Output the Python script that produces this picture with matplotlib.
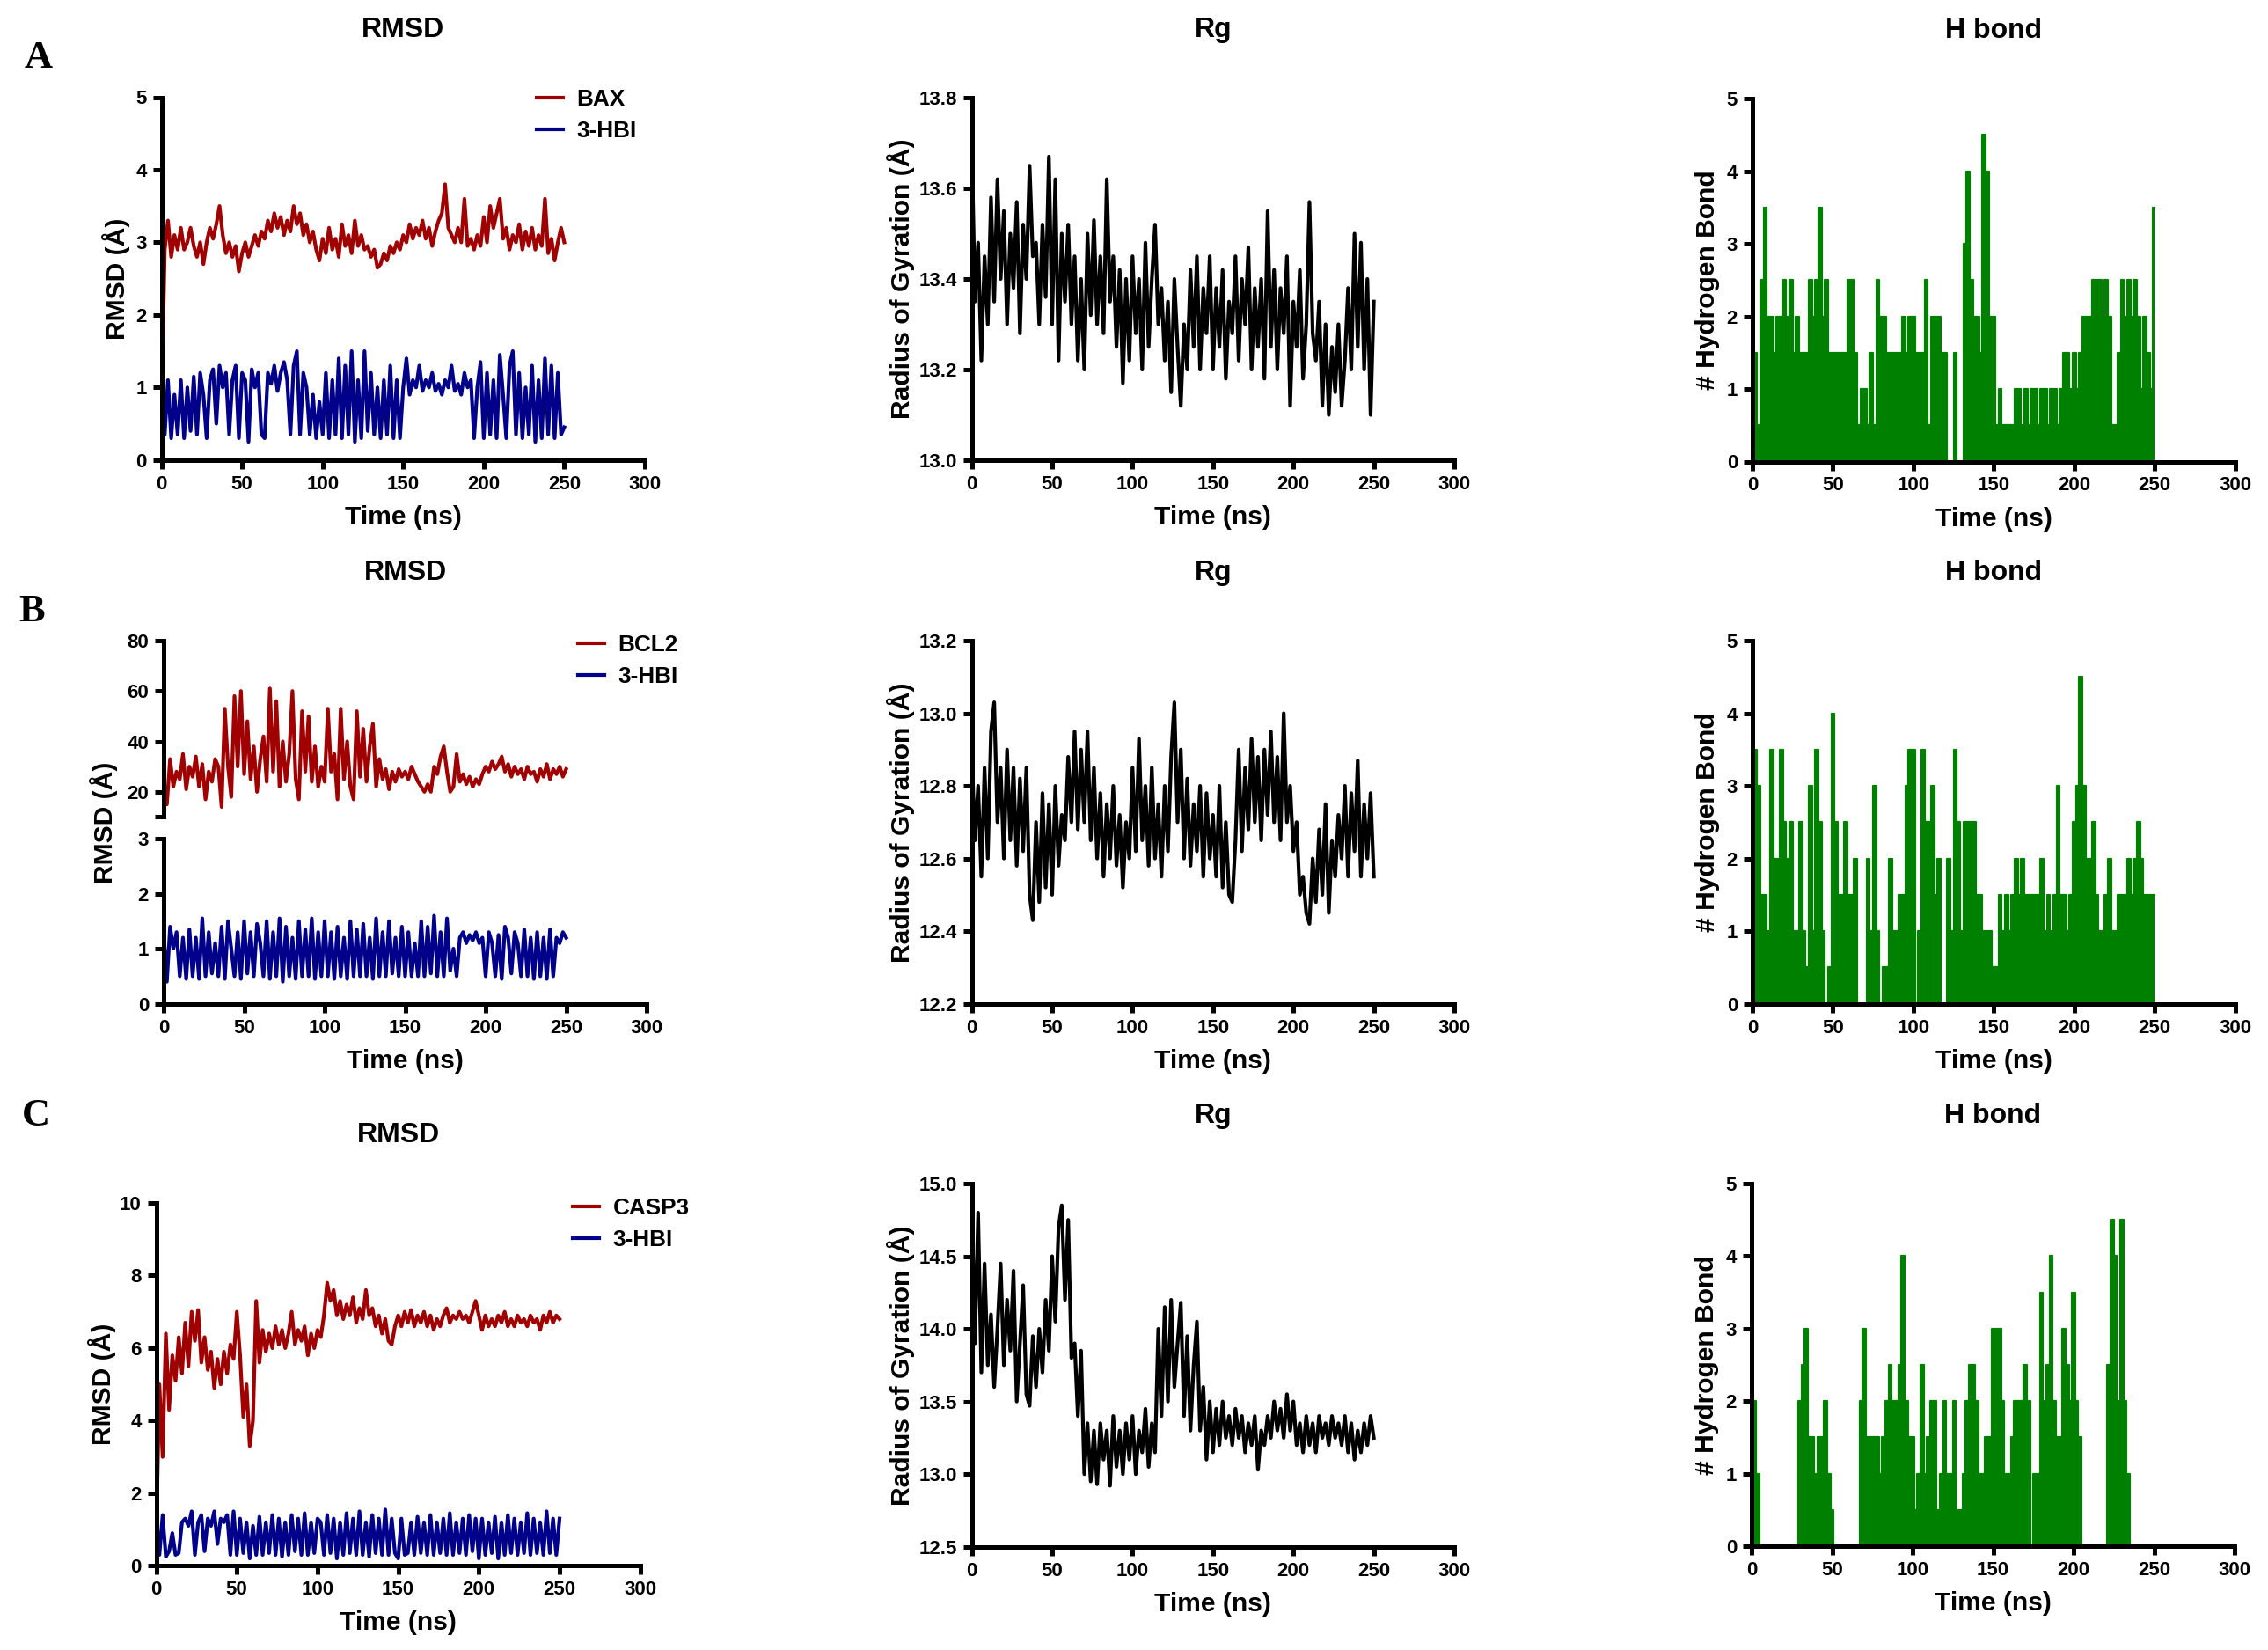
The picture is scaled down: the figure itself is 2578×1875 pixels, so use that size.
import numpy as np
import matplotlib
matplotlib.use('Agg')
import matplotlib.pyplot as plt
from matplotlib.ticker import FormatStrFormatter

# ---- data (one value every 2 ns, 0..250 ns) ----
bax_rmsd = [0.7, 2.9, 3.3, 2.8, 3.1, 2.9, 3.2, 2.9, 3.0, 3.2, 2.95, 2.8, 3.0, 2.7, 3.0, 3.2, 3.05, 3.25, 3.5, 3.1, 2.85, 3.0, 2.8, 2.95, 2.6,
            2.85, 3.0, 2.8, 2.95, 3.1, 2.95, 3.15, 3.05, 3.3, 3.15, 3.4, 3.2, 3.35, 3.1, 3.3, 3.15, 3.5, 3.25, 3.4, 3.1, 3.25, 3.0, 3.15, 2.9, 2.75,
            3.05, 2.85, 3.2, 2.9, 3.05, 2.8, 3.25, 2.95, 3.1, 2.85, 3.3, 2.95, 3.1, 2.9, 2.95, 2.8, 2.9, 2.65, 2.7, 2.85, 2.75, 2.95, 2.85, 3.0, 2.9,
            3.1, 3.0, 3.25, 3.05, 3.2, 3.1, 3.3, 3.05, 3.2, 2.95, 3.15, 3.3, 3.4, 3.8, 3.2, 3.1, 3.0, 3.2, 3.0, 3.6, 2.95, 3.05, 2.9, 3.1, 2.95,
            3.35, 3.0, 3.5, 3.2, 3.4, 3.6, 3.05, 3.2, 2.9, 3.1, 3.0, 3.25, 2.9, 3.15, 2.95, 3.2, 2.9, 3.1, 2.95, 3.6, 2.85, 3.05, 2.75, 3.0, 3.2, 3.0]
hbi_rmsd_a = [0.6, 0.35, 1.1, 0.3, 0.9, 0.35, 1.1, 0.3, 1.0, 0.4, 1.15, 0.35, 1.2, 0.9, 0.3, 1.1, 1.25, 0.5, 1.3, 1.0, 1.2, 0.35, 1.1, 1.3, 0.3,
              1.2, 1.1, 0.25, 1.25, 1.0, 1.2, 0.35, 0.3, 1.2, 1.05, 1.3, 0.95, 1.2, 1.35, 1.1, 0.35, 1.3, 1.5, 0.35, 1.2, 1.0, 0.35, 0.9, 0.3, 0.8,
              0.35, 1.2, 0.3, 1.1, 0.35, 1.4, 0.3, 1.3, 0.35, 1.5, 0.25, 1.1, 0.3, 1.5, 0.4, 1.2, 0.35, 1.0, 0.3, 1.1, 0.35, 1.3, 0.3, 1.1, 0.3,
              1.0, 1.4, 0.9, 1.1, 1.0, 1.3, 0.95, 1.1, 1.0, 1.2, 0.95, 1.05, 0.9, 1.1, 1.0, 1.3, 0.95, 1.05, 0.9, 1.2, 1.0, 1.1, 0.3, 1.0, 1.35,
              0.3, 1.2, 0.35, 1.1, 0.3, 1.45, 0.9, 0.3, 1.3, 1.5, 0.35, 1.2, 0.3, 1.0, 0.35, 1.3, 0.25, 1.1, 0.3, 1.4, 0.35, 1.3, 0.3, 1.2, 0.35, 0.45]
rg_a = [13.72, 13.35, 13.48, 13.22, 13.45, 13.3, 13.58, 13.35, 13.62, 13.4, 13.55, 13.3, 13.5, 13.38, 13.57, 13.28, 13.52, 13.4, 13.65, 13.45, 13.48, 13.3, 13.52, 13.36, 13.67,
        13.3, 13.62, 13.22, 13.5, 13.35, 13.52, 13.3, 13.45, 13.22, 13.4, 13.2, 13.5, 13.32, 13.53, 13.3, 13.45, 13.28, 13.62, 13.35, 13.45, 13.25, 13.42, 13.17, 13.4, 13.22,
        13.45, 13.28, 13.4, 13.2, 13.48, 13.25, 13.4, 13.52, 13.3, 13.38, 13.22, 13.35, 13.15, 13.4, 13.25, 13.12, 13.3, 13.2, 13.42, 13.25, 13.45, 13.2, 13.38, 13.28, 13.45,
        13.2, 13.38, 13.25, 13.42, 13.18, 13.35, 13.28, 13.45, 13.22, 13.4, 13.3, 13.47, 13.2, 13.38, 13.25, 13.4, 13.18, 13.55, 13.25, 13.42, 13.2, 13.38, 13.28, 13.45, 13.12,
        13.35, 13.25, 13.42, 13.18, 13.3, 13.57, 13.28, 13.22, 13.35, 13.12, 13.3, 13.1, 13.25, 13.15, 13.3, 13.12, 13.22, 13.38, 13.2, 13.5, 13.25, 13.48, 13.2, 13.4, 13.1, 13.35]
hb_a = [0, 1.5, 0.5, 2.5, 3.5, 2, 2, 1.5, 2, 2, 2.5, 2, 2.5, 1.5, 2, 1.5, 1.5, 1.5, 2.5, 2, 2.5, 3.5, 2, 2.5, 1.5,
        1.5, 1.5, 1.5, 1.5, 1.5, 2.5, 2.5, 1.5, 0.5, 1, 1, 0.5, 1.5, 0.5, 2.5, 2, 2, 1.5, 1.5, 1.5, 1.5, 1.5, 2, 1.5, 2,
        2, 1.5, 1.5, 1.5, 2.5, 0.5, 2, 2, 2, 1.5, 1.5, 0, 0, 1.5, 0, 0, 3, 4, 2.5, 2, 2, 1.5, 4.5, 4, 2,
        2, 0.5, 1, 0.5, 0.5, 0.5, 0.5, 1, 1, 0.5, 1, 0.5, 1, 1, 0.5, 1, 1, 0.5, 1, 1, 0.5, 1, 1.5, 1.5, 1,
        1.5, 1, 1.5, 2, 2, 2, 2.5, 2.5, 2.5, 2, 2.5, 2, 0.5, 0.5, 1.5, 2.5, 2, 2.5, 2, 2.5, 2, 1, 2, 1.5, 1, 3.5]

bcl2_rmsd = [25, 15, 33, 22, 28, 25, 35, 21, 30, 26, 34, 22, 31, 17, 28, 24, 33, 30, 14, 53, 30, 18, 58, 30, 60,
             27, 48, 25, 38, 20, 33, 42, 24, 61, 28, 56, 22, 40, 24, 35, 60, 25, 17, 52, 28, 50, 24, 38, 22, 30,
             24, 53, 28, 35, 17, 53, 25, 40, 22, 17, 52, 26, 45, 24, 38, 47, 22, 33, 25, 29, 21, 28, 24, 29, 26,
             28, 25, 30, 27, 24, 22, 20, 23, 20, 30, 27, 34, 38, 28, 20, 22, 35, 24, 27, 23, 26, 22, 25, 23, 27,
             30, 28, 32, 29, 31, 34, 28, 31, 26, 30, 27, 29, 25, 30, 27, 28, 24, 29, 26, 31, 25, 29, 27, 30, 26, 29]
hbi_rmsd_b = [1.3, 0.4, 1.4, 1.0, 1.3, 0.5, 1.2, 0.45, 1.35, 0.5, 1.2, 0.45, 1.55, 0.5, 1.3, 0.55, 1.1, 0.5, 1.4, 0.45, 1.5, 1.0, 0.5, 1.3, 0.45,
              1.5, 0.55, 1.3, 0.5, 1.45, 1.1, 0.5, 1.5, 0.45, 1.3, 0.5, 1.55, 0.4, 1.4, 0.5, 1.2, 0.45, 1.5, 0.5, 1.35, 0.5, 1.55, 0.45, 1.3, 0.5,
              1.5, 0.5, 1.3, 0.45, 1.4, 0.5, 1.2, 0.45, 1.5, 0.5, 1.35, 0.5, 1.45, 0.5, 1.2, 0.45, 1.55, 0.5, 1.3, 0.5, 1.5, 0.55, 1.2, 0.5, 1.4,
              0.5, 1.3, 0.5, 1.1, 0.5, 1.5, 0.5, 1.4, 0.55, 1.6, 0.5, 1.3, 0.5, 1.55, 0.6, 1.0, 0.5, 1.2, 1.3, 1.1, 1.25, 1.15, 1.3, 1.1, 1.2,
              0.5, 1.3, 1.1, 0.5, 1.25, 0.45, 1.4, 1.2, 0.55, 1.3, 1.1, 0.5, 1.35, 0.5, 1.2, 0.45, 1.3, 0.5, 1.2, 0.45, 1.35, 0.5, 1.2, 1.1, 1.3, 1.2]
rg_b = [12.9, 12.65, 12.8, 12.55, 12.85, 12.6, 12.95, 13.03, 12.7, 12.85, 12.6, 12.9, 12.65, 12.85, 12.58, 12.82, 12.62, 12.85, 12.5, 12.43, 12.7, 12.48, 12.78, 12.52, 12.75,
        12.5, 12.8, 12.58, 12.72, 12.65, 12.88, 12.7, 12.95, 12.68, 12.9, 12.7, 12.95, 12.65, 12.85, 12.6, 12.78, 12.55, 12.75, 12.6, 12.8, 12.58, 12.72, 12.52, 12.7, 12.6,
        12.85, 12.62, 12.93, 12.65, 12.8, 12.58, 12.85, 12.6, 12.75, 12.55, 12.8, 12.62, 12.88, 13.03, 12.7, 12.9, 12.6, 12.82, 12.58, 12.75, 12.62, 12.8, 12.55, 12.78, 12.6,
        12.72, 12.55, 12.8, 12.52, 12.7, 12.5, 12.48, 12.65, 12.9, 12.62, 12.85, 12.68, 12.93, 12.7, 12.88, 12.65, 12.9, 12.72, 12.95, 12.7, 12.88, 12.65, 13.0, 12.7, 12.8,
        12.62, 12.7, 12.5, 12.55, 12.45, 12.42, 12.6, 12.48, 12.68, 12.5, 12.75, 12.45, 12.65, 12.55, 12.72, 12.6, 12.8, 12.55, 12.78, 12.62, 12.87, 12.55, 12.75, 12.6, 12.78, 12.55]
hb_b = [0.5, 3.5, 3, 1.5, 1.5, 1, 3.5, 2, 2, 3.5, 2.5, 2, 2.5, 1, 1, 2.5, 1, 0.5, 3, 1, 3.5, 2.5, 1, 0, 0.5,
        4, 2.5, 1.5, 1.5, 2.5, 1.5, 1.5, 2, 0, 0, 0, 2, 1, 3, 1, 0, 0.5, 0.5, 2, 1, 1, 1.5, 1.5, 3, 3.5,
        3.5, 0, 1, 3.5, 2.5, 2.5, 3, 1.5, 2, 0, 0, 2, 1, 3.5, 2.5, 1, 2.5, 2.5, 2.5, 2.5, 1.5, 1.5, 1, 1, 1,
        0.5, 0.5, 1.5, 1, 1.5, 1, 1.5, 2, 1.5, 2, 1.5, 1.5, 1.5, 1.5, 1.5, 2, 1, 1.5, 1, 1.5, 3, 1.5, 1.5, 1, 1.5,
        2.5, 3, 4.5, 3, 2, 2, 2.5, 1.5, 1, 1, 1.5, 2, 1, 1, 1.5, 1.5, 1.5, 2, 1.5, 2, 2.5, 2, 1.5, 1.5, 1.5, 1.5]

casp3_rmsd = [0.6, 5.0, 3.0, 6.4, 4.3, 5.8, 5.1, 6.3, 5.3, 6.7, 5.5, 7.0, 6.2, 7.05, 5.6, 6.3, 5.4, 5.9, 4.9, 5.7, 5.0, 5.9, 5.3, 6.1, 5.7,
              7.0, 5.8, 4.1, 5.0, 3.3, 4.0, 7.3, 5.6, 6.5, 5.9, 6.4, 6.0, 6.6, 6.1, 6.5, 6.0, 6.4, 7.0, 6.1, 6.5, 6.2, 6.6, 5.8, 6.4, 6.0,
              6.5, 6.3, 6.9, 7.8, 7.3, 7.6, 6.9, 7.3, 6.8, 7.2, 6.9, 7.4, 6.7, 7.1, 6.8, 7.6, 6.9, 7.1, 6.6, 6.9, 6.4, 6.8, 6.2, 6.1, 6.6,
              6.9, 6.6, 7.0, 6.7, 7.05, 6.6, 6.9, 6.7, 7.0, 6.6, 6.9, 6.5, 6.8, 6.6, 6.9, 7.1, 6.7, 6.9, 6.8, 7.0, 6.8, 6.9, 6.7, 7.0, 7.3,
              6.9, 6.5, 6.9, 6.6, 6.8, 6.6, 6.9, 6.7, 7.0, 6.6, 6.8, 6.6, 6.9, 6.7, 6.8, 6.6, 6.9, 6.7, 6.8, 6.5, 6.9, 6.7, 7.0, 6.7, 6.9, 6.8]
hbi_rmsd_c = [1.4, 0.3, 1.4, 0.25, 0.4, 0.9, 0.3, 0.35, 1.2, 1.3, 1.1, 1.5, 0.3, 1.2, 1.4, 0.4, 1.3, 1.1, 1.5, 0.6, 1.3, 1.2, 1.4, 0.3, 1.5,
              0.3, 1.3, 0.35, 1.2, 0.2, 1.1, 0.3, 1.35, 0.3, 1.2, 0.35, 1.4, 0.3, 1.3, 0.25, 1.2, 0.3, 1.4, 0.4, 1.3, 0.3, 1.45, 0.3, 1.2, 0.35,
              1.3, 1.2, 0.3, 1.4, 0.35, 1.3, 0.2, 1.2, 0.3, 1.45, 0.35, 1.3, 0.3, 1.5, 0.3, 1.2, 0.25, 1.4, 0.35, 1.3, 0.3, 1.55, 0.3, 1.3, 0.35,
              0.2, 1.3, 0.3, 0.35, 1.2, 0.3, 1.35, 0.35, 1.2, 0.3, 1.4, 0.3, 1.2, 0.35, 1.3, 0.3, 1.45, 0.3, 1.2, 0.35, 1.3, 0.3, 1.4, 0.4, 1.3,
              0.2, 1.3, 0.3, 1.2, 0.35, 1.35, 0.2, 1.2, 0.3, 1.4, 0.35, 1.3, 0.3, 1.2, 0.35, 1.45, 0.3, 1.3, 0.35, 1.2, 0.3, 1.5, 0.35, 1.3, 0.3, 1.3]
rg_c = [14.9, 13.9, 14.8, 13.7, 14.45, 13.75, 14.1, 13.6, 14.0, 14.45, 13.75, 14.2, 13.85, 14.4, 13.5, 13.9, 14.3, 13.55, 13.47, 13.95, 13.6, 14.0, 13.7, 14.2, 13.85,
        14.5, 14.05, 14.7, 14.85, 14.2, 14.75, 13.8, 13.9, 13.4, 13.85, 13.0, 13.35, 12.95, 13.3, 12.93, 13.35, 13.1, 13.3, 12.92, 13.4, 13.05, 13.3, 13.0, 13.35, 13.1,
        13.4, 13.0, 13.3, 13.15, 13.45, 13.05, 13.35, 13.15, 14.0, 13.4, 14.15, 13.5, 14.2, 13.6, 13.9, 14.18, 13.4, 13.95, 13.3, 13.75, 14.05, 13.3, 13.6, 13.1, 13.5,
        13.15, 13.45, 13.2, 13.5, 13.25, 13.4, 13.2, 13.45, 13.25, 13.4, 13.15, 13.35, 13.2, 13.4, 13.03, 13.3, 13.2, 13.4, 13.25, 13.5, 13.3, 13.45, 13.25, 13.55, 13.3,
        13.5, 13.2, 13.35, 13.15, 13.4, 13.2, 13.35, 13.15, 13.4, 13.25, 13.35, 13.2, 13.4, 13.25, 13.35, 13.2, 13.4, 13.15, 13.35, 13.1, 13.3, 13.15, 13.35, 13.2, 13.4, 13.25]
hb_c = [1.5, 2, 1, 0, 0, 0, 0, 0, 0, 0, 0, 0, 0, 0, 0, 2, 2.5, 3, 1.5, 1.5, 1, 1.5, 1.5, 2, 1,
        0.5, 0, 0, 0, 0, 0, 0, 0, 0, 2, 3, 1.5, 1.5, 1.5, 1.5, 1, 1.5, 2, 2.5, 2, 2, 2.5, 4, 2, 1.5,
        1.5, 0.5, 1, 2.5, 1, 1.5, 2, 2, 0.5, 1, 2, 1, 1, 2, 0.5, 0.5, 1, 2, 2.5, 2.5, 2, 1, 1, 1.5, 1.5,
        3, 3, 3, 2, 1, 1, 1.5, 2, 2, 2, 2.5, 2, 0, 1, 1, 3.5, 2, 2.5, 4, 2, 1.5, 1.5, 3, 2.5, 2,
        3.5, 2, 1.5, 0, 0, 0, 0, 0, 0, 0, 0, 2.5, 4.5, 4, 2, 4.5, 2, 1, 0, 0, 0, 0, 0, 0, 0, 0]

red, blue, green = '#A00000', '#00008B', '#008000'
LW = 1.5

plt.rcParams['font.family'] = ['Liberation Sans', 'DejaVu Sans']
plt.rcParams['font.weight'] = 'bold'
plt.rcParams['axes.labelweight'] = 'bold'

W, H = 2578, 1875
fig = plt.figure(figsize=(W / 200, H / 200), dpi=200)


def time_of(vals):
    return np.linspace(0, 250, len(vals))


def add_ax(x0, y0, x1, y1):
    # pixel box (left, top, right, bottom) -> figure fraction
    return fig.add_axes([x0 / W, 1 - y1 / H, (x1 - x0) / W, (y1 - y0) / H])


def style(ax, ylim, yticks, fmt=None, xaxis=True):
    ax.set_xlim(0, 300)
    ax.set_ylim(*ylim)
    ax.set_yticks(yticks)
    if fmt:
        ax.yaxis.set_major_formatter(FormatStrFormatter(fmt))
    for s in ['top', 'right']:
        ax.spines[s].set_visible(False)
    for s in ['left', 'bottom']:
        ax.spines[s].set_linewidth(1.8)
    ax.tick_params(direction='out', length=3.6, width=1.8, labelsize=8, pad=2.5)
    if xaxis:
        ax.set_xticks(range(0, 301, 50))
        ax.set_xlabel('Time (ns)', fontsize=10.8)
        hpx = ax.get_position().height * H
        ax.xaxis.set_label_coords(0.5, -65 / hpx)
        ax.xaxis.label.set_va('center')
    else:
        ax.spines['bottom'].set_visible(False)
        ax.set_xticks([])


def ylab(ax, text, xoff):
    ax.set_ylabel(text, fontsize=10.8)
    ax.yaxis.set_label_coords(xoff, 0.5)
    ax.yaxis.label.set_va('center')


def title(ax, text):
    hpx = ax.get_position().height * H
    ax.text(0.5, 1 + 77 / hpx, text, transform=ax.transAxes, ha='center', va='center',
            fontsize=11.5, fontweight='bold')


def legend(ax, handles, labels, x, y):
    ax.legend(handles, labels, loc='upper left', bbox_to_anchor=(x / W, 1 - y / H),
              bbox_transform=fig.transFigure, frameon=False, handlelength=1.15,
              handletextpad=0.6, borderpad=0, borderaxespad=0, labelspacing=0.45,
              prop={'size': 9.4, 'weight': 'bold'})


def hbond(ax, vals):
    t = time_of(vals)
    ax.fill_between(t, vals, step='mid', color=green, lw=0)
    ax.plot(t, vals, drawstyle='steps-mid', color=green, lw=0.8)


# ---------------- row A ----------------
ax = add_ax(183.6, 110.5, 733, 522.7)
lb, = ax.plot(time_of(hbi_rmsd_a), hbi_rmsd_a, color=blue, lw=LW)
lr, = ax.plot(time_of(bax_rmsd), bax_rmsd, color=red, lw=LW)
style(ax, (0, 5), range(0, 6))
ylab(ax, 'RMSD (Å)', -0.094)
title(ax, 'RMSD')
legend(ax, [lr, lb], ['BAX', '3-HBI'], 610, 101)

ax = add_ax(1104.5, 111, 1653, 523)
ax.plot(time_of(rg_a), rg_a, color='black', lw=LW)
style(ax, (13.0, 13.8), np.arange(13.0, 13.81, 0.2), '%.1f')
ylab(ax, 'Radius of Gyration (Å)', -0.147)
title(ax, 'Rg')

ax = add_ax(1992, 112, 2540.6, 524.5)
hbond(ax, hb_a)
style(ax, (0, 5), range(0, 6))
ylab(ax, '# Hydrogen Bond', -0.093)
title(ax, 'H bond')

# ---------------- row B (broken RMSD axis) ----------------
ax_up = add_ax(186, 728, 735, 928.4)
ax_lo = add_ax(186, 953, 735, 1140.6)
lr, = ax_up.plot(time_of(bcl2_rmsd), bcl2_rmsd, color=red, lw=LW)
lb, = ax_lo.plot(time_of(hbi_rmsd_b), hbi_rmsd_b, color=blue, lw=LW)
style(ax_up, (10, 80), [10, 20, 40, 60, 80], xaxis=False)
ax_up.set_yticklabels(['', '20', '40', '60', '80'])
style(ax_lo, (0, 3), range(0, 4))
fig.text(118 / W, 1 - 935 / H, 'RMSD (Å)', rotation=90, ha='center', va='center',
         fontsize=10.8, fontweight='bold')
title(ax_up, 'RMSD')
legend(ax_up, [lr, lb], ['BCL2', '3-HBI'], 657, 721)

ax = add_ax(1104.5, 728, 1653, 1140.6)
ax.plot(time_of(rg_b), rg_b, color='black', lw=LW)
style(ax, (12.2, 13.2), np.arange(12.2, 13.21, 0.2), '%.1f')
ylab(ax, 'Radius of Gyration (Å)', -0.147)
title(ax, 'Rg')

ax = add_ax(1992, 728, 2540.6, 1140.6)
hbond(ax, hb_b)
style(ax, (0, 5), range(0, 6))
ylab(ax, '# Hydrogen Bond', -0.093)
title(ax, 'H bond')

# ---------------- row C ----------------
ax = add_ax(177.5, 1367, 727.7, 1779.3)
lb, = ax.plot(time_of(hbi_rmsd_c), hbi_rmsd_c, color=blue, lw=LW)
lr, = ax.plot(time_of(casp3_rmsd), casp3_rmsd, color=red, lw=LW)
style(ax, (0, 10), range(0, 11, 2))
ylab(ax, 'RMSD (Å)', -0.112)
title(ax, 'RMSD')
legend(ax, [lr, lb], ['CASP3', '3-HBI'], 651, 1361)

ax = add_ax(1104.5, 1345, 1653, 1757.7)
ax.plot(time_of(rg_c), rg_c, color='black', lw=LW)
style(ax, (12.5, 15.0), np.arange(12.5, 15.01, 0.5), '%.1f')
ylab(ax, 'Radius of Gyration (Å)', -0.147)
title(ax, 'Rg')

ax = add_ax(1991, 1345, 2540, 1757)
hbond(ax, hb_c)
style(ax, (0, 5), range(0, 6))
ylab(ax, '# Hydrogen Bond', -0.092)
title(ax, 'H bond')

# panel letters
for letter, (x, y) in zip('ABC', [(44, 66), (36, 695), (41, 1268)]):
    fig.text(x / W, 1 - y / H, letter, ha='center', va='center', fontsize=16,
             fontweight='bold', family='Liberation Serif')

fig.savefig('out.png', dpi=200, facecolor='white')
